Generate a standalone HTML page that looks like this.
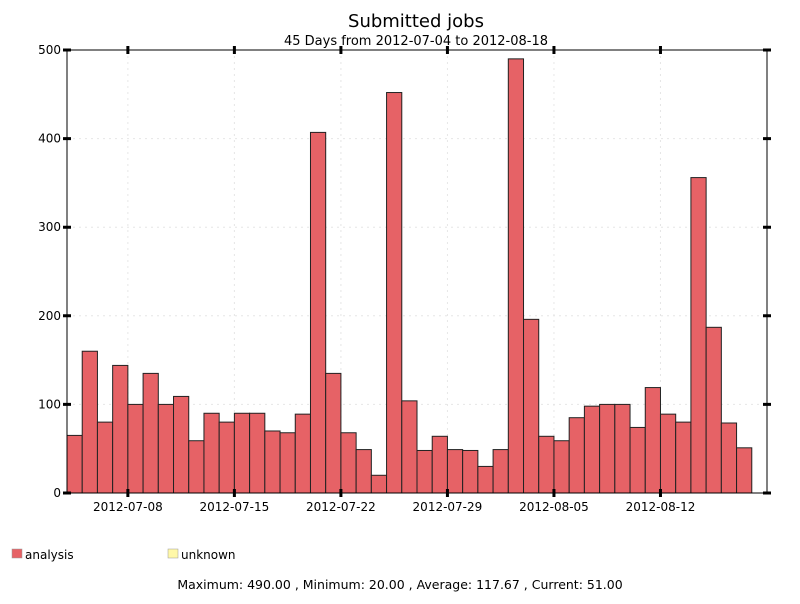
<!DOCTYPE html>
<html><head><meta charset="utf-8"><style>
body{margin:0;background:#fff;width:800px;height:600px;overflow:hidden;font-family:"DejaVu Sans","Liberation Sans",sans-serif}
</style></head><body>
<svg id="c" width="800" height="600" xmlns="http://www.w3.org/2000/svg">
<text x="416" y="27" text-anchor="middle" font-size="18">Submitted jobs</text>
<text x="416" y="45" text-anchor="middle" font-size="13">45 Days from 2012-07-04 to 2012-08-18</text>
<g id="grid"></g><g id="bars"></g><g id="axes"></g>
<rect x="12" y="549" width="10" height="9" fill="#e66266" stroke="#999" stroke-width="0.5"/>
<text x="25" y="559" font-size="12">analysis</text>
<rect x="168" y="549" width="10" height="9" fill="#fff8a8" stroke="#999" stroke-width="0.5"/>
<text x="181" y="559" font-size="12">unknown</text>
<text x="400" y="589" text-anchor="middle" font-size="12.5">Maximum: 490.00 , Minimum: 20.00 , Average: 117.67 , Current: 51.00</text>
</svg>
<script>
const values=[65,160,80,144,100,135,100,109,59,90,80,90,90,70,68,89,407,135,68,49,20,452,104,48,64,49,48,30,49,490,196,64,59,85,98,100,100,74,119,89,80,356,187,79,51];
const yTicks=[0,100,200,300,400,500];
const xTickLabels=["2012-07-08","2012-07-15","2012-07-22","2012-07-29","2012-08-05","2012-08-12"];
const xTickSlots=[4,11,18,25,32,39];
const NS="http://www.w3.org/2000/svg";
const L=67,R=767,T=50,B=493,slots=46,yMax=500;
const xs=i=>L+i*(R-L)/slots;
const ys=v=>B-v*(B-T)/yMax;
function mk(tag,attrs,parent,txt){const e=document.createElementNS(NS,tag);for(const k in attrs)e.setAttribute(k,attrs[k]);if(txt!==undefined)e.textContent=txt;document.getElementById(parent).appendChild(e);return e;}
yTicks.forEach(v=>{
  if(v>0&&v<yMax){const g=mk('line',{x1:L,x2:R,y1:ys(v),y2:ys(v),stroke:'#e6e6e6','stroke-dasharray':'2,4'},'grid');
  
  }
  const t=mk('text',{x:L-6,y:ys(v)+4,'text-anchor':'end','font-size':12},'axes',String(v));
  
  
  const tk=mk('path',{d:`M${L-4} ${ys(v)}h8M${R-4} ${ys(v)}h8`,stroke:'#000','stroke-width':3},'axes');
  
  
});
xTickSlots.forEach((s,i)=>{
  const g=mk('line',{x1:xs(s),x2:xs(s),y1:T,y2:B,stroke:'#e6e6e6','stroke-dasharray':'2,4'},'grid');
  
  
  const tk=mk('path',{d:`M${xs(s)} ${B-4}v8M${xs(s)} ${T-4}v8`,stroke:'#000','stroke-width':3},'axes');
  
  
  const t=mk('text',{x:xs(s),y:B+18,'text-anchor':'middle','font-size':12},'axes',xTickLabels[i]);
  
  
});
values.forEach((v,i)=>{
  const b=mk('rect',{x:xs(i),y:ys(v),width:xs(i+1)-xs(i),height:B-ys(v),fill:'#e66266',stroke:'#222','stroke-width':1},'bars');
  
  
});
const fr=mk('rect',{x:L,y:T,width:R-L,height:B-T,fill:'none',stroke:'#000','stroke-width':1},'axes');


</script>
</body></html>
